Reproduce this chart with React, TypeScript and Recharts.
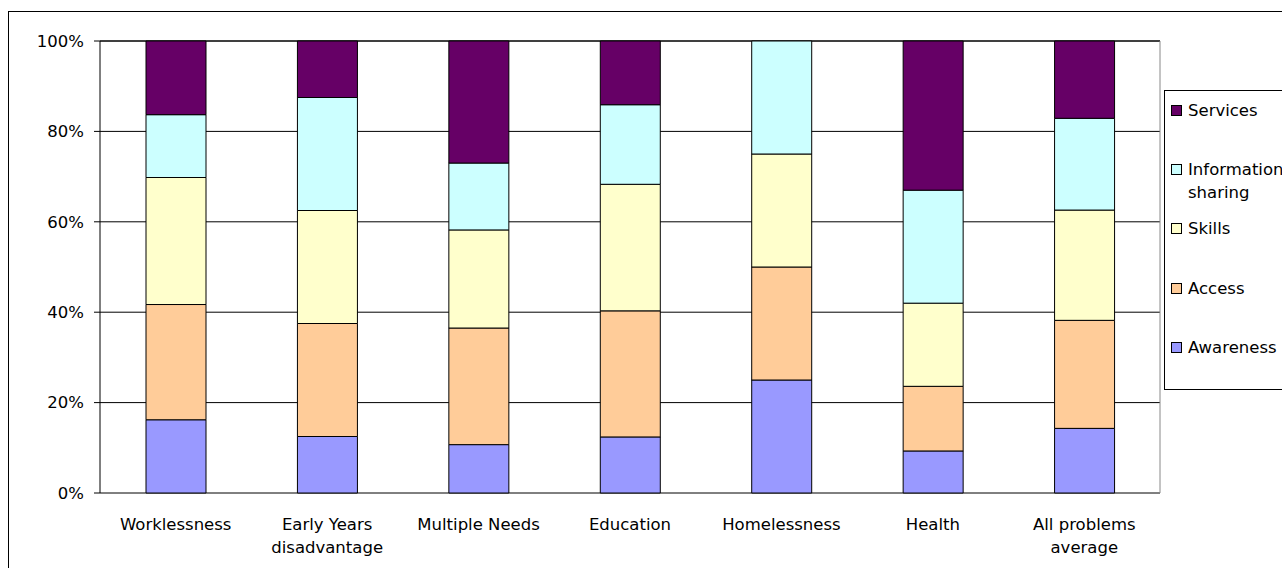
import { Bar, BarChart, CartesianGrid, Legend, XAxis, YAxis } from "recharts"

const categories = [
  "Worklessness",
  "Early Years disadvantage",
  "Multiple Needs",
  "Education",
  "Homelessness",
  "Health",
  "All problems average",
]

// share of each barrier type per problem area, in percent
const awareness = [16.2, 12.5, 10.7, 12.4, 25, 9.3, 14.3]
const access = [25.5, 25, 25.8, 27.9, 25, 14.3, 23.9]
const skills = [28.1, 25, 21.7, 28.0, 25, 18.4, 24.4]
const informationSharing = [13.9, 25, 14.8, 17.6, 25, 25.0, 20.3]
const services = [16.3, 12.5, 27.0, 14.1, 0, 33.0, 17.1]

const yTicks = [0, 20, 40, 60, 80, 100]

// top-to-bottom order of the legend entries
const legendOrder = ["Services", "Information sharing", "Skills", "Access", "Awareness"]

// line breaks used on the category axis
const categoryLines: Record<string, string[]> = {
  "Early Years disadvantage": ["Early Years", "disadvantage"],
  "All problems average": ["All problems", "average"],
}

const data = categories.map((name, i) => ({
  name,
  awareness: awareness[i],
  access: access[i],
  skills: skills[i],
  info: informationSharing[i],
  services: services[i],
}))

const FONT = "'DejaVu Sans', sans-serif"
const FONT_SIZE = 16.5

function CategoryTick(props: any) {
  const { x, y, payload } = props
  const lines = categoryLines[payload.value] ?? [payload.value]
  return (
    <text x={x} y={y + 37} textAnchor="middle" fill="#000" fontSize={FONT_SIZE} fontFamily={FONT}>
      {lines.map((line, i) => (
        <tspan key={i} x={x} dy={i === 0 ? 0 : 23}>
          {line}
        </tspan>
      ))}
    </text>
  )
}

function LegendBox(props: any) {
  const entries = props.payload ?? []
  const items = legendOrder
    .map((name) => entries.find((e: any) => e.value === name))
    .filter(Boolean)
  return (
    <div
      style={{
        position: "relative",
        width: 130,
        height: 298,
        border: "1px solid #000",
        background: "#fff",
        fontFamily: FONT,
        fontSize: FONT_SIZE,
        color: "#000",
        textAlign: "left",
      }}
    >
      {items.map((item: any, i: number) => (
        <div key={item.value} style={{ position: "absolute", left: 6, top: 8 + i * 59.2, display: "flex" }}>
          <span
            style={{
              width: 9,
              height: 9,
              marginTop: 6,
              border: "1px solid #000",
              background: item.color,
              flex: "none",
            }}
          />
          <span style={{ marginLeft: 6, width: 100, lineHeight: "23px" }}>{item.value}</span>
        </div>
      ))}
    </div>
  )
}

export default function App() {
  return (
    <div
      style={{
        position: "fixed",
        left: 8,
        top: 11,
        width: 1274,
        height: 557,
        overflow: "hidden",
        borderLeft: "1px solid #000",
        borderTop: "1px solid #000",
        background: "#fff",
        fontFamily: FONT,
      }}
    >
      <BarChart
        width={1273}
        height={556}
        data={data}
        margin={{ top: 29, right: 122, left: 11, bottom: 15 }}
      >
        <CartesianGrid horizontal vertical={false} stroke="#000" />
        <CartesianGrid
          horizontal={false}
          stroke="#888"
          verticalCoordinatesGenerator={({ offset }: any) => [offset.left + offset.width]}
        />
        <XAxis
          xAxisId="edges"
          type="number"
          domain={[0, categories.length]}
          ticks={categories.map((_, i) => i).concat(categories.length)}
          height={0}
          tickSize={6}
          tickLine={{ stroke: "#000" }}
          axisLine={{ stroke: "#000" }}
          tick={() => <g />}
        />
        <XAxis
          xAxisId="cat"
          dataKey="name"
          height={60}
          tickLine={false}
          axisLine={false}
          tickSize={0}
          tickMargin={0}
          interval={0}
          tick={<CategoryTick />}
        />
        <YAxis
          width={80}
          domain={[0, 100]}
          ticks={yTicks}
          tickFormatter={(v) => `${v}%`}
          tickSize={6}
          tickMargin={10}
          tickLine={{ stroke: "#000" }}
          axisLine={{ stroke: "#000" }}
          tick={{ fill: "#000", fontSize: FONT_SIZE, fontFamily: FONT }}
        />
        <Legend
          layout="horizontal"
          align="center"
          verticalAlign="middle"
          wrapperStyle={{ left: 1155, top: 78, width: "auto" }}
          content={<LegendBox />}
        />
        <Bar xAxisId="cat" dataKey="awareness" name="Awareness" stackId="a" fill="#9999FF" stroke="#000" barSize={60} isAnimationActive={false} />
        <Bar xAxisId="cat" dataKey="access" name="Access" stackId="a" fill="#FFCC99" stroke="#000" barSize={60} isAnimationActive={false} />
        <Bar xAxisId="cat" dataKey="skills" name="Skills" stackId="a" fill="#FFFFCC" stroke="#000" barSize={60} isAnimationActive={false} />
        <Bar xAxisId="cat" dataKey="info" name="Information sharing" stackId="a" fill="#CCFFFF" stroke="#000" barSize={60} isAnimationActive={false} />
        <Bar xAxisId="cat" dataKey="services" name="Services" stackId="a" fill="#660066" stroke="#000" barSize={60} isAnimationActive={false} />
      </BarChart>
    </div>
  )
}
